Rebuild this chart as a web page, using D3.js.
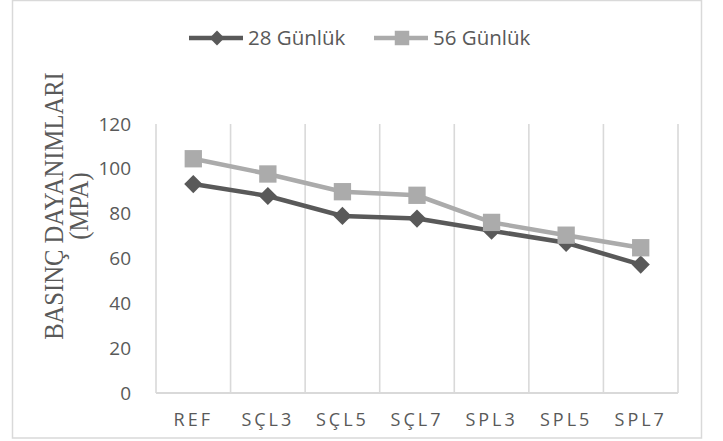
<!DOCTYPE html>
<html>
<head>
<meta charset="utf-8">
<script src="https://cdn.jsdelivr.net/npm/d3@7"></script>
<style>
  body { margin: 0; background: #fff; }
  text { font-family: 'Open Sans', sans-serif; fill: #595959; }
</style>
</head>
<body>
<div id="line-chart"></div>
<script>
var categories = ['REF', 'SÇL3', 'SÇL5', 'SÇL7', 'SPL3', 'SPL5', 'SPL7']
var gun28 = [93.2, 87.9, 79.0, 77.8, 72.4, 67.0, 57.3]
var gun56 = [104.5, 97.7, 89.8, 88.2, 76.1, 70.4, 64.8]
var yTicks = [0, 20, 40, 60, 80, 100, 120]
var seriesNames = ['28 Günlük', '56 Günlük']

var margin = { top: 124, left: 156, right: 45, bottom: 48 }

var svg = d3
  .select('#line-chart')
  .append('svg')
  .attr('width', 723)
  .attr('height', 441)

// outer chart border
svg
  .append('rect')
  .attr('x', 12.5)
  .attr('y', 0.5)
  .attr('width', 689)
  .attr('height', 437.5)
  .attr('fill', 'none')
  .attr('stroke', '#d9d9d9')
  .attr('stroke-width', 1.5)

var g = svg
  .append('g')
  .attr('transform', 'translate(' + margin.left + ',' + margin.top + ')')

var xPositionScale = d3
  .scaleBand()
  .domain(categories)
  .range([0, 522])
  .padding(0)

var yPositionScale = d3
  .scaleLinear()
  .domain([0, 120])
  .range([269, 0])

// vertical gridlines at category borders
var borders = categories.map(function(c) {
  return xPositionScale(c)
})
borders.push(xPositionScale.range()[1])
g.selectAll('.grid')
  .data(borders)
  .enter()
  .append('line')
  .attr('class', 'grid')
  .attr('x1', function(d) { return d })
  .attr('x2', function(d) { return d })
  .attr('y1', yPositionScale(120))
  .attr('y2', yPositionScale(0))
  .attr('stroke', '#d9d9d9')
  .attr('stroke-width', 1.6)

// x axis line
g.append('line')
  .attr('x1', 0)
  .attr('x2', xPositionScale.range()[1])
  .attr('y1', yPositionScale(0))
  .attr('y2', yPositionScale(0))
  .attr('stroke', '#d9d9d9')
  .attr('stroke-width', 2)

// y axis labels
var yAxis = d3
  .axisLeft(yPositionScale)
  .tickValues(yTicks)
  .tickSize(0)
  .tickPadding(25)
g.append('g')
  .attr('class', 'axis y-axis')
  .call(yAxis)
g.select('.y-axis path').remove()
g.selectAll('.y-axis text')
  .attr('font-size', 19)
  .attr('font-family', "'Open Sans', sans-serif")
  .attr('fill', '#595959')

// x axis labels
var xAxis = d3.axisBottom(xPositionScale).tickSize(0).tickPadding(20)
g.append('g')
  .attr('class', 'axis x-axis')
  .attr('transform', 'translate(0,' + yPositionScale(0) + ')')
  .call(xAxis)
g.select('.x-axis path').remove()
g.selectAll('.x-axis text')
  .attr('font-size', 18)
  .attr('font-family', "'Open Sans', sans-serif")
  .attr('letter-spacing', 3)
  .attr('fill', '#595959')

var line = d3
  .line()
  .x(function(d, i) { return xPositionScale(categories[i]) + xPositionScale.bandwidth() / 2 })
  .y(function(d) { return yPositionScale(d) })

var colors = ['#595959', '#ababab']

g.append('path')
  .datum(gun28)
  .attr('d', line)
  .attr('stroke', colors[0])
  .attr('stroke-width', 4.5)
  .attr('fill', 'none')

g.append('path')
  .datum(gun56)
  .attr('d', line)
  .attr('stroke', colors[1])
  .attr('stroke-width', 4.5)
  .attr('fill', 'none')

var diamond = d3.symbol().type(d3.symbolDiamond2).size(210)
var square = d3.symbol().type(d3.symbolSquare).size(300)

g.selectAll('.m28')
  .data(gun28)
  .enter()
  .append('path')
  .attr('class', 'm28')
  .attr('d', diamond)
  .attr('transform', function(d, i) {
    return 'translate(' + (xPositionScale(categories[i]) + xPositionScale.bandwidth() / 2) + ',' + yPositionScale(d) + ')'
  })
  .attr('fill', colors[0])

g.selectAll('.m56')
  .data(gun56)
  .enter()
  .append('path')
  .attr('class', 'm56')
  .attr('d', square)
  .attr('transform', function(d, i) {
    return 'translate(' + (xPositionScale(categories[i]) + xPositionScale.bandwidth() / 2) + ',' + yPositionScale(d) + ')'
  })
  .attr('fill', colors[1])

// legend
var legendX = [189, 374]
var legend = svg
  .selectAll('.legend')
  .data(seriesNames)
  .enter()
  .append('g')
  .attr('class', 'legend')
  .attr('transform', function(d, i) { return 'translate(' + legendX[i] + ',38)' })

legend
  .append('line')
  .attr('x1', 0)
  .attr('x2', 54)
  .attr('stroke', function(d, i) { return colors[i] })
  .attr('stroke-width', 4.5)

legend
  .append('path')
  .attr('d', function(d, i) {
    return i === 0
      ? d3.symbol().type(d3.symbolDiamond2).size(140)()
      : d3.symbol().type(d3.symbolSquare).size(210)()
  })
  .attr('transform', 'translate(28,0)')
  .attr('fill', function(d, i) { return colors[i] })

legend
  .append('text')
  .text(function(d) { return d })
  .attr('x', 59)
  .attr('y', 7)
  .attr('font-size', 20.5)

// y axis title
var title = svg
  .append('g')
  .attr('transform', 'translate(63,206) rotate(-90) scale(1,1.15)')
title
  .append('text')
  .text('BASINÇ DAYANIMLARI')
  .attr('text-anchor', 'middle')
  .attr('font-size', 24.6)
  .style('font-family', "'Liberation Serif', serif")
title
  .append('text')
  .text('(MPA)')
  .attr('text-anchor', 'middle')
  .attr('y', 22)
  .attr('font-size', 24.6)
  .style('font-family', "'Liberation Serif', serif")
</script>
</body>
</html>
